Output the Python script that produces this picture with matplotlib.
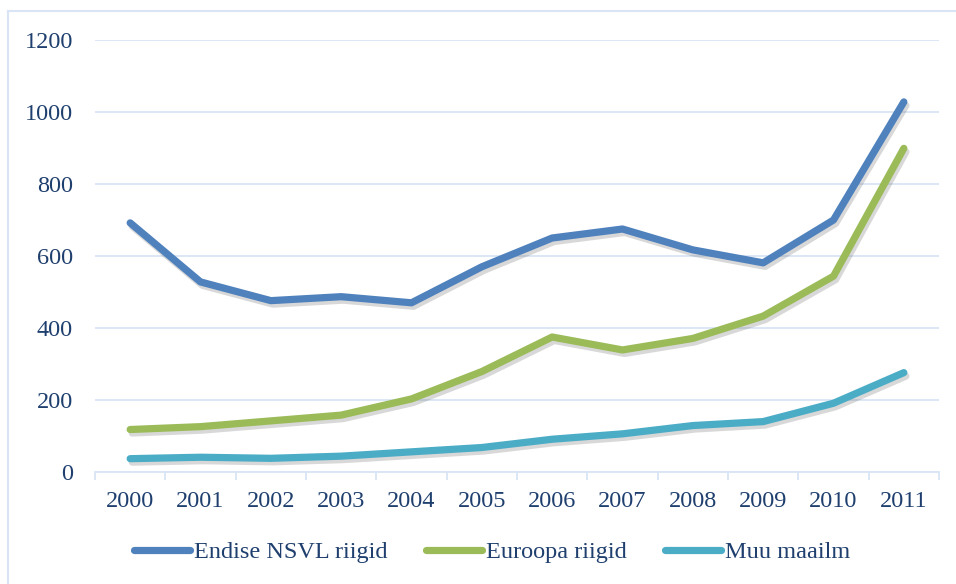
import matplotlib
matplotlib.use("Agg")
import matplotlib.pyplot as plt
import matplotlib.patheffects as pe
from matplotlib.lines import Line2D
import numpy as np

years = ["2000", "2001", "2002", "2003", "2004", "2005", "2006", "2007", "2008", "2009", "2010", "2011"]
endise_nsvl = [692, 528, 476, 487, 470, 570, 650, 675, 617, 581, 700, 1028]
euroopa = [118, 126, 142, 158, 203, 279, 375, 339, 371, 433, 544, 899]
muu_maailm = [37, 41, 38, 44, 56, 68, 91, 106, 129, 140, 191, 276]
series_names = ["Endise NSVL riigid", "Euroopa riigid", "Muu maailm"]
yticks = [0, 200, 400, 600, 800, 1000, 1200]

colors = ["#4F81BD", "#9BBB59", "#4BACC6"]
text_color = "#1F3F6E"
grid_color = "#D9E5F6"

plt.rcParams['font.family'] = ['Liberation Serif', 'DejaVu Serif']

fig = plt.figure(figsize=(9.56, 5.84), dpi=100)
ax = fig.add_axes([95/956, 1 - 472/584, (939-95)/956, (472-40)/584])

x = np.arange(len(years))
shadow = [pe.SimpleLineShadow(offset=(1.5, -2.5), shadow_color='#666666', alpha=0.25), pe.Normal()]
for vals, c in zip([endise_nsvl, euroopa, muu_maailm], colors):
    ax.plot(x, vals, color=c, lw=5.2, solid_capstyle='round', solid_joinstyle='round',
            path_effects=shadow, zorder=3)

ax.set_xlim(-0.5, len(years) - 0.5)
ax.set_ylim(0, 1200)
ax.set_yticks(yticks)
ax.set_yticklabels([str(v) for v in yticks])
ax.set_xticks(x)
ax.set_xticklabels(years)
ax.set_xticks(np.arange(-0.5, len(years)), minor=True)
ax.tick_params(axis='x', which='major', length=0, pad=14, labelsize=17.5, labelcolor=text_color)
ax.tick_params(axis='x', which='minor', length=6, width=1.3, color=grid_color, direction='out')
ax.tick_params(axis='y', length=0, pad=16, labelsize=17.5, labelcolor=text_color)

ax.grid(axis='y', color=grid_color, lw=1.3, zorder=0)
ax.set_axisbelow(True)
for s in ['top', 'right', 'left']:
    ax.spines[s].set_visible(False)
ax.spines['bottom'].set_color(grid_color)
ax.spines['bottom'].set_linewidth(1.3)

handles = [Line2D([0], [0], color=c, lw=5.2, solid_capstyle='round') for c in colors]
fig.legend(handles, series_names, loc='center', bbox_to_anchor=(492/956, 1 - 552/584), ncol=3,
           frameon=False, fontsize=17.5, labelcolor=text_color, handlelength=2.3,
           handletextpad=0.15, columnspacing=1.6)

# partial frame (top & left edges visible)
fig.add_artist(Line2D([8/956, 8/956], [0, 1 - 11/584], color=grid_color, lw=1.5, transform=fig.transFigure))
fig.add_artist(Line2D([8/956, 1], [1 - 11/584, 1 - 11/584], color=grid_color, lw=1.5, transform=fig.transFigure))

fig.savefig("out.png", dpi=100)
